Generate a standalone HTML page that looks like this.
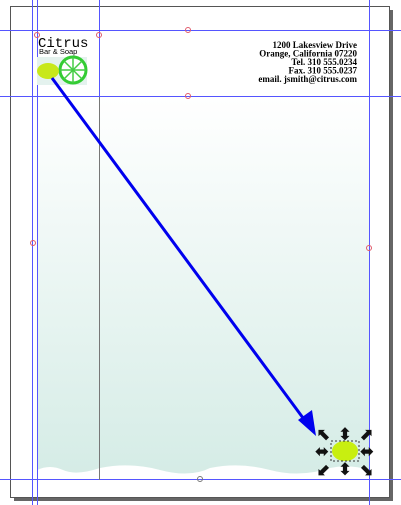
<!DOCTYPE html>
<html><head><meta charset="utf-8"><style>
body{margin:0;width:401px;height:505px;background:#fff;position:relative;overflow:hidden;font-family:"Liberation Serif",serif}
div{position:absolute}
</style></head><body>
<div style="left:14px;top:10px;width:379px;height:491px;background:#666"></div>
<div style="left:10px;top:6px;width:378px;height:490px;background:#fff;border:1px solid #555"></div>
<div style="left:37px;top:97px;width:332px;height:378px;background:linear-gradient(#fff,#d5ece6)"></div>
<svg width="401" height="505" style="position:absolute;left:0;top:0">
<path d="M37 470 Q50 464 63 470 T100 468 Q130 462 160 470 T210 468 Q240 462 270 470 T330 468 Q350 464 369 470 L369 476 L37 476Z" fill="#fff"/>
<g stroke="#5555ff" stroke-width="1" fill="none">
<line x1="32.5" y1="0" x2="32.5" y2="505"/><line x1="37.5" y1="0" x2="37.5" y2="505"/>
<line x1="99.5" y1="0" x2="99.5" y2="97"/><line x1="369.5" y1="0" x2="369.5" y2="505"/>
<line x1="0" y1="30.5" x2="401" y2="30.5"/><line x1="0" y1="96.5" x2="401" y2="96.5"/>
<line x1="0" y1="479.5" x2="401" y2="479.5"/>
</g>
<line x1="99.5" y1="97" x2="99.5" y2="480" stroke="#777"/>
<g fill="none" stroke="#e05a6a">
<circle cx="37" cy="35" r="2.5"/><circle cx="99" cy="35" r="2.5"/><circle cx="188" cy="30" r="2.5"/>
<circle cx="188" cy="96" r="2.5"/><circle cx="33" cy="243" r="2.5"/><circle cx="369" cy="248" r="2.5"/>
</g>
<circle cx="200" cy="479" r="2.5" fill="none" stroke="#777"/>
<rect x="37" y="57" width="50" height="28" fill="#e4f2ee"/>
<circle cx="73" cy="70" r="13" fill="#fff" stroke="#33cc33" stroke-width="3"/>
<g stroke="#44cc44" stroke-width="1.5"><line x1="60" y1="70" x2="86" y2="70"/><line x1="73" y1="57" x2="73" y2="83"/><line x1="64" y1="61" x2="82" y2="79"/><line x1="82" y1="61" x2="64" y2="79"/></g>
<ellipse cx="48" cy="71" rx="11" ry="8" fill="#c8e81a"/>
<text x="38" y="47" font-family="Liberation Mono,monospace" font-size="14">Citrus</text>
<text x="39" y="54" font-family="Liberation Sans,sans-serif" font-size="7.5">Bar &amp; Soap</text>
<g font-family="Liberation Serif,serif" font-weight="bold" font-size="9" text-anchor="end">
<text x="357" y="48">1200 Lakesview Drive</text><text x="357" y="56.5">Orange, California 07220</text>
<text x="357" y="65">Tel. 310 555.0234</text><text x="357" y="73.5">Fax. 310 555.0237</text>
<text x="357" y="82">email. jsmith@citrus.com</text></g>
<line x1="52" y1="78" x2="306" y2="422" stroke="#0000ee" stroke-width="3"/>
<polygon points="316,436 298,420 312,410" fill="#0000ee"/>
<ellipse cx="345" cy="451" rx="13" ry="10" fill="#c8ef10"/>
<rect x="331" y="441" width="28" height="20" fill="none" stroke="#333" stroke-dasharray="2,2"/>
<g fill="#111" font-size="17" font-weight="bold" font-family="DejaVu Sans,sans-serif" text-anchor="middle">
<text x="324" y="440">⬉</text><text x="345" y="440">⬍</text><text x="366" y="440">⬈</text>
<text x="322" y="457">⬌</text><text x="367" y="457">⬌</text>
<text x="324" y="475">⬋</text><text x="345" y="475">⬍</text><text x="366" y="475">⬊</text></g>
</svg>
</body></html>
